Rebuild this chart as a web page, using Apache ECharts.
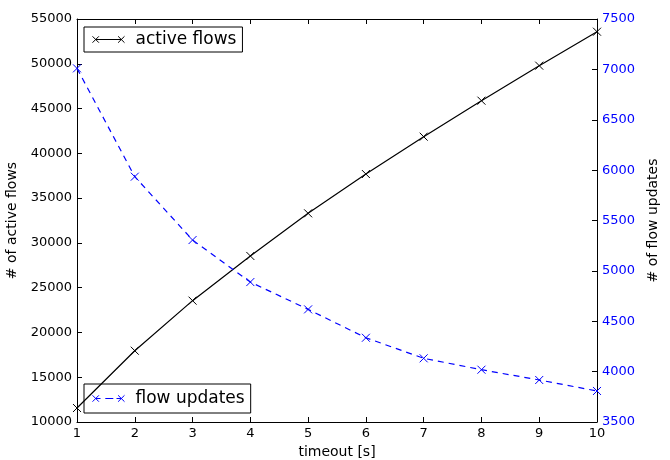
<!DOCTYPE html>
<html>
<head>
<meta charset="utf-8">
<script src="https://cdn.jsdelivr.net/npm/echarts@6/dist/echarts.min.js"></script>
<style>
  html, body { margin: 0; padding: 0; background: #fff; }
  #chart { width: 670px; height: 460px; }
</style>
</head>
<body>
<div id="chart"></div>
<script>
  // timeout [s]
  var timeouts = [1, 2, 3, 4, 5, 6, 7, 8, 9, 10];
  // # of active flows (left axis)
  var activeFlows = [11560, 17960, 23550, 28540, 33300, 37690, 41860, 45880, 49790, 53580];
  // # of flow updates (right axis)
  var flowUpdates = [7010, 5935, 5306, 4889, 4618, 4336, 4132, 4019, 3917, 3808];

  var font = 'DejaVu Sans';
  var cross = 'path://M0,0L10,10M10,0L0,10';
  var iconSolid = 'path://M0,0L8,8M0,8L8,0M4,4L36,4M32,0L40,8M32,8L40,0';
  var iconDash = 'path://M0,0L8,8M0,8L8,0M4,4L10,4M16,4L26,4M30,4L36,4M32,0L40,8M32,8L40,0';

  function pairs(ys) {
    return timeouts.map(function (x, i) { return [x, ys[i]]; });
  }
  function plain(v) { return String(v); }

  var chart = echarts.init(document.getElementById('chart'));

  chart.setOption({
    animation: false,
    backgroundColor: '#fff',
    textStyle: { fontFamily: font },
    grid: { left: 77, right: 73, top: 19, bottom: 38, outerBoundsMode: 'none', containLabel: false },
    legend: [
      {
        data: ['active flows'],
        left: 84, top: 27,
        orient: 'vertical',
        padding: [4, 6, 4, 6],
        borderColor: '#000', borderWidth: 1, borderRadius: 0,
        itemWidth: 32, itemHeight: 8,
        icon: iconSolid,
        itemStyle: { color: 'none', borderColor: '#000', borderWidth: 1 },
        textStyle: { fontFamily: font, fontSize: 17, color: '#000', padding: [0, 0, 0, 6] }
      },
      {
        data: ['flow updates'],
        left: 84, top: 384,
        orient: 'vertical',
        padding: [6, 6, 6, 6],
        borderColor: '#000', borderWidth: 1, borderRadius: 0,
        itemWidth: 32, itemHeight: 8,
        icon: iconDash,
        itemStyle: { color: 'none', borderColor: '#0000ff', borderWidth: 1 },
        textStyle: { fontFamily: font, fontSize: 17, color: '#000', padding: [0, 0, 0, 6] }
      }
    ],
    xAxis: [
      {
        type: 'value', min: 1, max: 10, interval: 1,
        name: 'timeout [s]', nameLocation: 'middle', nameGap: 19,
        nameTextStyle: { fontFamily: font, fontSize: 14, color: '#000' },
        axisLine: { lineStyle: { color: '#000', width: 1 } },
        axisTick: { inside: true, length: 5, lineStyle: { color: '#000' } },
        axisLabel: { fontFamily: font, fontSize: 13, color: '#000', margin: 5, formatter: plain },
        splitLine: { show: false }
      },
      {
        type: 'value', min: 1, max: 10, interval: 1, position: 'top',
        axisLine: { lineStyle: { color: '#000', width: 1 } },
        axisTick: { inside: true, length: 5, lineStyle: { color: '#000' } },
        axisLabel: { show: false },
        splitLine: { show: false }
      }
    ],
    yAxis: [
      {
        type: 'value', min: 10000, max: 55000, interval: 5000,
        name: '# of active flows', nameLocation: 'middle', nameGap: 52,
        nameTextStyle: { fontFamily: font, fontSize: 14, color: '#000' },
        axisLine: { show: true, lineStyle: { color: '#000', width: 1 } },
        axisTick: { show: true, inside: true, length: 5, lineStyle: { color: '#000' } },
        axisLabel: { fontFamily: font, fontSize: 13, color: '#000', margin: 5, formatter: plain },
        splitLine: { show: false }
      },
      {
        type: 'value', min: 3500, max: 7500, interval: 500, position: 'right',
        name: '# of flow updates', nameLocation: 'middle', nameGap: 47,
        nameTextStyle: { fontFamily: font, fontSize: 14, color: '#000' },
        axisLine: { show: true, lineStyle: { color: '#000', width: 1 } },
        axisTick: { show: true, inside: true, length: 5, lineStyle: { color: '#000' } },
        axisLabel: { fontFamily: font, fontSize: 13, color: '#0000ff', margin: 5, formatter: plain },
        splitLine: { show: false }
      }
    ],
    series: [
      {
        name: 'active flows',
        type: 'line',
        xAxisIndex: 0, yAxisIndex: 0,
        data: pairs(activeFlows),
        symbol: cross, symbolSize: 8, showAllSymbol: true,
        lineStyle: { color: '#000', width: 1.2 },
        itemStyle: { color: 'none', borderColor: '#000', borderWidth: 1 }
      },
      {
        name: 'flow updates',
        type: 'line',
        xAxisIndex: 0, yAxisIndex: 1,
        data: pairs(flowUpdates),
        symbol: cross, symbolSize: 8, showAllSymbol: true,
        lineStyle: { color: '#0000ff', width: 1.2, type: [6, 5] },
        itemStyle: { color: 'none', borderColor: '#0000ff', borderWidth: 1 }
      }
    ]
  });
</script>
</body>
</html>
